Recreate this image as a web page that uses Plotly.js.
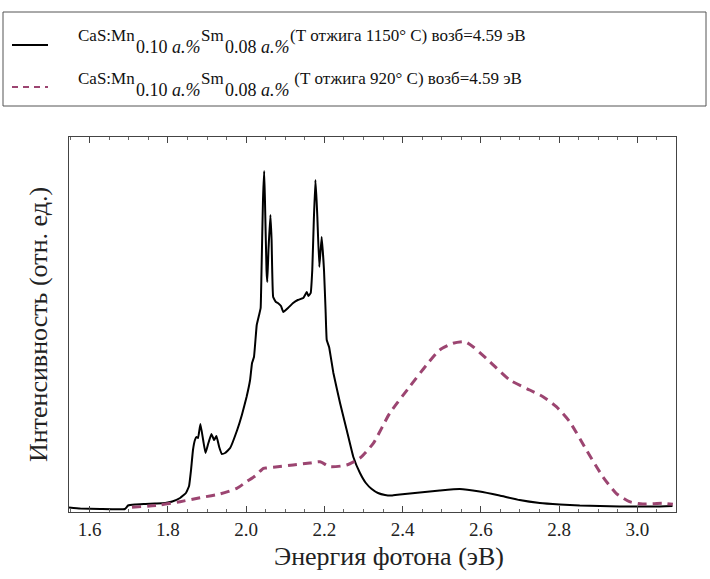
<!DOCTYPE html>
<html>
<head>
<meta charset="utf-8">
<script src="https://cdn.plot.ly/plotly-3.0.1.min.js"></script>
<style>html,body{margin:0;padding:0;background:#fff;}#chart{width:710px;height:579px;}</style>
</head>
<body>
<div id="chart"></div>
<script>
// Sample annealed at 1150 °C (solid black)
const energy1150 = [1.547,1.576,1.627,1.690,1.698,1.716,1.742,1.767,1.793,1.811,1.831,1.846,1.854,1.859,1.864,1.869,1.873,1.877,1.883,1.890,1.896,1.902,1.911,1.918,1.924,1.931,1.938,1.946,1.959,1.977,1.989,2.001,2.010,2.015,2.020,2.027,2.033,2.037,2.039,2.043,2.046,2.048,2.052,2.054,2.057,2.062,2.065,2.069,2.076,2.081,2.089,2.095,2.107,2.120,2.132,2.146,2.155,2.159,2.165,2.169,2.173,2.177,2.180,2.182,2.187,2.193,2.199,2.203,2.206,2.212,2.223,2.240,2.257,2.274,2.291,2.306,2.321,2.337,2.355,2.372,2.393,2.444,2.495,2.546,2.597,2.648,2.699,2.751,2.802,2.853,2.904,2.955,3.006,3.057,3.090];
const intensity1150 = [4.5,3.5,3,3,6.5,7.5,8,8.5,9,10.5,14,19,26,42,62,72,75,74,88,72,59,67,78,72,76,65,58,59,64,82,97,115,132,149,155,187,197,204,237,312,341,312,242,230,262,297,272,215,210,209,206,200,204,209,212,214,220,216,219,242,292,332,312,295,245,275,242,202,172,165,139,109,82,55,39,29,23,19,17,16.5,17.5,19.5,21.5,23,20.5,16.5,12,9,7.5,6.5,6,5.5,5.5,5.5,6];

// Sample annealed at 920 °C (dashed)
const energy920 = [1.708,1.780,1.831,1.882,1.933,1.976,2.001,2.023,2.044,2.052,2.086,2.120,2.163,2.189,2.214,2.257,2.291,2.325,2.367,2.418,2.461,2.495,2.529,2.559,2.580,2.623,2.674,2.725,2.759,2.793,2.827,2.870,2.912,2.946,2.980,3.014,3.065,3.091];
const intensity920 = [4.7,7,10.3,14.3,18,23.7,30.3,36,43.7,44,45.5,47,49,50.3,45.3,47,54,68.7,98.7,125.3,147,162,168.7,170.3,165.3,150.3,132,122,115.3,105.3,90.3,62,35.3,18.7,10.3,8,8.7,7.7];

const tickVals = [1.6,1.8,2.0,2.2,2.4,2.6,2.8,3.0];
const tickText = ['1.6','1.8','2.0','2.2','2.4','2.6','2.8','3.0'];

const xTitle = 'Энергия фотона (эВ)';
const yTitle = 'Интенсивность (отн. ед.)';

// legend label pieces: [plain, italic] per piece
const label1 = [['CaS:Mn',''],['0.10 ','a.%'],['Sm',''],['0.08 ','a.%'],['(Т отжига 1150° С) возб=4.59 эВ','']];
const label2 = [['CaS:Mn',''],['0.10 ','a.%'],['Sm',''],['0.08 ','a.%'],[' (Т отжига 920° С) возб=4.59 эВ','']];

const SERIF = "Liberation Serif, DejaVu Serif, serif";
const DASH_COLOR = '#9c4571';
const MAIN_SIZE = 17, SUB_SIZE = 18;

const traces = [
  {x: energy1150, y: intensity1150, type: 'scatter', mode: 'lines',
   line: {color: '#000', width: 2, shape: 'spline', smoothing: 0.3}, showlegend: false, hoverinfo: 'skip'},
  {x: energy920, y: intensity920, type: 'scatter', mode: 'lines',
   line: {color: DASH_COLOR, width: 3, dash: '9px,6px', shape: 'spline', smoothing: 0.6}, showlegend: false, hoverinfo: 'skip'}
];

// plot area in px: x 69..676, y 137..512
const PL = 69, PR = 676, PT = 137, PB = 512;
const px = v => (v - PL) / (PR - PL);
const py = v => (PB - v) / (PB - PT);

const ctx = document.createElement('canvas').getContext('2d');
function textWidth(plain, ital, size) {
  ctx.font = size + 'px ' + SERIF;
  let w = ctx.measureText(plain).width;
  if (ital) { ctx.font = 'italic ' + size + 'px ' + SERIF; w += ctx.measureText(ital).width; }
  return w;
}

const annotations = [];
function addLabel(parts, x0, yMain, ySub) {
  let x = x0;
  parts.forEach((p, i) => {
    const isSub = (i === 1 || i === 3);
    const size = isSub ? SUB_SIZE : MAIN_SIZE;
    annotations.push({
      xref: 'paper', yref: 'paper', x: px(x), y: py(isSub ? ySub : yMain),
      xanchor: 'left', yanchor: 'middle', showarrow: false, borderpad: 0,
      text: p[0] + (p[1] ? '<i>' + p[1] + '</i>' : ''),
      font: {family: SERIF, size: size, color: '#111'}
    });
    x += textWidth(p[0], p[1], size) + 1;
  });
}
addLabel(label1, 77, 36, 47);
addLabel(label2, 77, 79, 90);

annotations.push({
  xref: 'paper', yref: 'paper', x: px(389), y: py(556), xanchor: 'center', yanchor: 'middle',
  showarrow: false, text: xTitle, font: {family: SERIF, size: 26, color: '#222'}
});

const shapes = [
  {type: 'rect', xref: 'paper', yref: 'paper', x0: px(3), x1: px(706), y0: py(106), y1: py(12),
   line: {color: '#555', width: 1}, fillcolor: 'rgba(0,0,0,0)'},
  {type: 'line', xref: 'paper', yref: 'paper', x0: px(12), x1: px(48), y0: py(45), y1: py(45),
   line: {color: '#000', width: 2}},
  {type: 'line', xref: 'paper', yref: 'paper', x0: px(12), x1: px(48), y0: py(87), y1: py(87),
   line: {color: DASH_COLOR, width: 2, dash: '6px,5px'}}
];

const layout = {
  width: 710, height: 579,
  margin: {l: PL, r: 710 - PR, t: PT, b: 579 - PB},
  paper_bgcolor: '#fff', plot_bgcolor: '#fff',
  font: {family: SERIF, color: '#222'},
  xaxis: {
    range: [1.547, 3.099], tickvals: tickVals, ticktext: tickText,
    ticks: 'inside', ticklen: 6, tickcolor: '#444', tickwidth: 1,
    minor: {dtick: 0.05, tick0: 1.6, ticks: 'inside', ticklen: 3, tickcolor: '#666'},
    showline: true, linecolor: '#444', linewidth: 1, mirror: 'ticks',
    showgrid: false, zeroline: false,
    tickfont: {family: SERIF, size: 19, color: '#222'}
  },
  yaxis: {
    range: [0, 375], showticklabels: false, ticks: '',
    showline: true, linecolor: '#444', linewidth: 1, mirror: true,
    showgrid: false, zeroline: false,
    title: {text: yTitle, font: {family: SERIF, size: 26, color: '#222'}, standoff: 12}
  },
  annotations: annotations,
  shapes: shapes
};

Plotly.newPlot('chart', traces, layout, {staticPlot: true, displayModeBar: false});
</script>
</body>
</html>
